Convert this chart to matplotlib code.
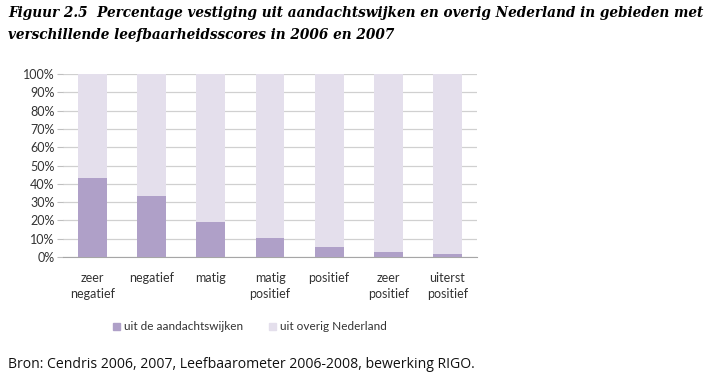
import numpy as np
import matplotlib.pyplot as plt

categories = ["zeer\nnegatief", "negatief", "matig", "matig\npositief",
              "positief", "zeer\npositief", "uiterst\npositief"]
aandacht = [43.0, 33.5, 19.0, 10.5, 5.3, 2.9, 1.8]
overig = [100 - v for v in aandacht]
series_names = ["uit de aandachtswijken", "uit overig Nederland"]

dark = "#AFA0C8"
light = "#E4DFEC"

plt.rcParams['font.family'] = ['Lato', 'DejaVu Sans']

fig = plt.figure(figsize=(7.1, 3.79), dpi=100)
ax = fig.add_axes([63/710, 1-257/379, (477-63)/710, (257-74)/379])

x = np.arange(len(categories))
ax.bar(x, aandacht, width=0.49, color=dark, zorder=3)
ax.bar(x, overig, width=0.49, bottom=aandacht, color=light, zorder=3)

ax.set_xlim(-0.5, len(categories) - 0.5)
ax.set_ylim(0, 100)
ax.set_yticks(np.arange(0, 101, 10))
ax.set_yticklabels([f"{v}%" for v in range(0, 101, 10)], fontsize=9, color="#333333")
ax.set_xticks(x)
ax.set_xticklabels(categories, fontsize=9, color="#333333", linespacing=1.4)
ax.tick_params(axis='x', length=0, pad=11)
ax.tick_params(axis='y', length=4, color="#BFBFBF", pad=2)
ax.grid(axis='y', color="#D0D0D0", linewidth=0.9, zorder=0)
for s in ["top", "right", "left"]:
    ax.spines[s].set_visible(False)
ax.spines["bottom"].set_color("#A6A6A6")

handles = [plt.Rectangle((0, 0), 1, 1, color=dark), plt.Rectangle((0, 0), 1, 1, color=light)]
fig.legend(handles, series_names, loc='center', bbox_to_anchor=(250/710, 1-327/379),
           ncol=2, frameon=False, fontsize=8.5, handlelength=0.6, handleheight=0.6,
           handletextpad=0.3, columnspacing=2.2, labelcolor="#333333")

title_font = dict(fontsize=9.85, family='DejaVu Serif', style='italic', weight='bold',
                  va='center', ha='left')
fig.text(8/710, 1-13/379, "Figuur 2.5  Percentage vestiging uit aandachtswijken en overig Nederland in gebieden met",
         **title_font)
fig.text(8/710, 1-35/379, "verschillende leefbaarheidsscores in 2006 en 2007", **title_font)
fig.text(8/710, 1-365/379, "Bron: Cendris 2006, 2007, Leefbaarometer 2006-2008, bewerking RIGO.",
         fontsize=10.1, family='Open Sans', va='center', ha='left', color="#111111")

fig.savefig("out.png", dpi=100)
